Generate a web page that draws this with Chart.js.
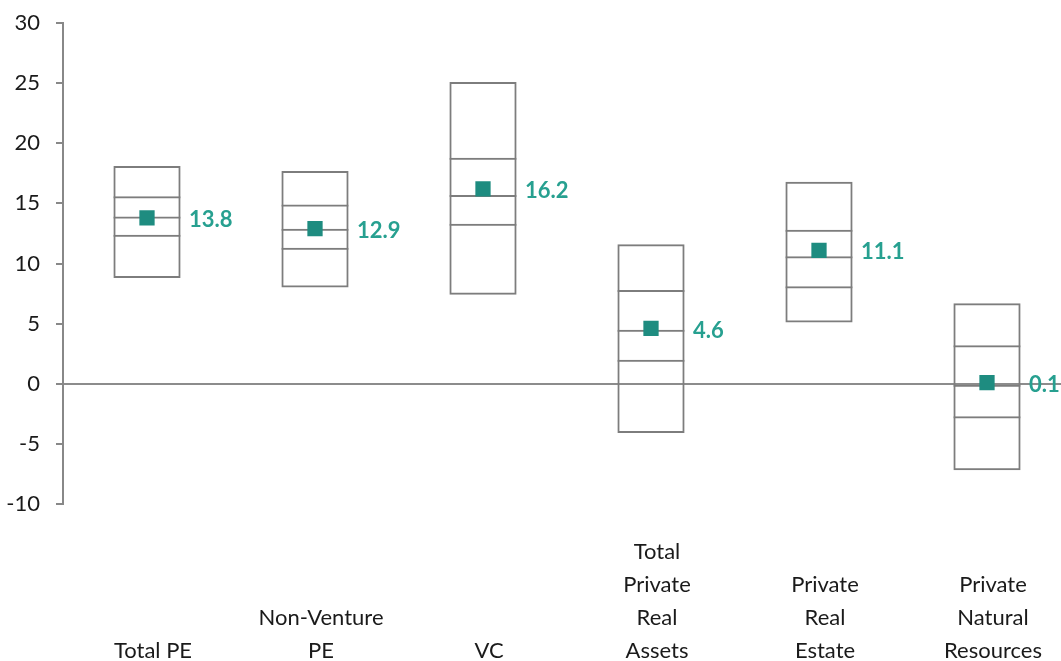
<!DOCTYPE html>
<html>
<head>
<meta charset="utf-8">
<script src="https://cdn.jsdelivr.net/npm/chart.js@4/dist/chart.umd.min.js"></script>
<style>
  html, body { margin: 0; padding: 0; background: #fff; overflow: hidden; }
  canvas { display: block; }
</style>
</head>
<body>
<canvas id="rangeChart" width="1075" height="661"></canvas>
<script>
const categories = [
    'Total PE',
    ['Non-Venture', 'PE'],
    'VC',
    ['Total', 'Private', 'Real', 'Assets'],
    ['Private', 'Real', 'Estate'],
    ['Private', 'Natural', 'Resources']
]

// range of returns per asset class (min, quartiles, max) and the pooled value
const lows = [8.8, 8.0, 7.4, -4.1, 5.1, -7.2]
const lowerQuartile = [12.4, 11.3, 13.3, 2.0, 8.1, -2.7]
const medians = [13.9, 12.9, 15.7, 4.5, 10.6, 0.0]
const upperQuartile = [15.6, 14.9, 18.8, 7.8, 12.8, 3.2]
const highs = [18.1, 17.7, 25.1, 11.6, 16.8, 6.7]
const pooled = [13.8, 12.9, 16.2, 4.6, 11.1, 0.1]

const yTicks = [30, 25, 20, 15, 10, 5, 0, -5, -10]

const boxGray = '#7d7d7d'
const teal = '#1e8c80'
const tealText = '#27a090'

function segment(from, to) {
    return from.map((v, i) => [v, to[i]])
}

// outer box gets the full border, inner segments only draw their top edge
function boxPart(data, full) {
    return {
        type: 'bar',
        data: data,
        backgroundColor: 'rgba(0,0,0,0)',
        borderColor: boxGray,
        borderWidth: full ? 2 : { top: 2, bottom: 0, left: 0, right: 0 },
        borderSkipped: false,
        grouped: false,
        categoryPercentage: 1,
        barPercentage: 0.4,
        order: 2
    }
}

const labelPlugin = {
    id: 'pooledLabels',
    afterDatasetsDraw(chart) {
        const meta = chart.getDatasetMeta(0)
        const ctx = chart.ctx
        ctx.save()
        ctx.font = 'bold 22px Lato'
        ctx.fillStyle = tealText
        ctx.textAlign = 'left'
        ctx.textBaseline = 'middle'
        meta.data.forEach((pt, i) => {
            ctx.fillText(pooled[i].toFixed(1), pt.x + 42, pt.y + 2)
        })
        ctx.restore()
    }
}

const data = {
    labels: categories,
    datasets: [
        {
            type: 'line',
            label: 'Pooled',
            data: pooled,
            showLine: false,
            pointStyle: 'rect',
            pointRadius: 10.8,
            pointBackgroundColor: teal,
            pointBorderColor: teal,
            pointBorderWidth: 0,
            order: 0
        },
        boxPart(segment(lows, highs), true),
        boxPart(segment(lows, lowerQuartile), false),
        boxPart(segment(lowerQuartile, medians), false),
        boxPart(segment(medians, upperQuartile), false)
    ]
}

const config = {
    type: 'bar',
    data: data,
    plugins: [labelPlugin],
    options: {
        responsive: false,
        animation: false,
        layout: { autoPadding: false, padding: { top: 23, right: 4, bottom: 0, left: 0 } },
        plugins: {
            legend: { display: false },
            tooltip: { enabled: false }
        },
        scales: {
            x: {
                offset: true,
                grid: { display: false },
                border: { display: false },
                ticks: {
                    color: '#1a1a1a',
                    font: { family: 'Lato', size: 22, lineHeight: 1.5 },
                    padding: 40,
                    labelOffset: 6,
                    crossAlign: 'far',
                    autoSkip: false,
                    maxRotation: 0
                },
                afterFit(scale) {
                    scale.height = 157
                    scale.paddingLeft = 0
                    scale.paddingRight = 0
                }
            },
            y: {
                min: -10,
                max: 30,
                afterBuildTicks(scale) {
                    scale.ticks = yTicks.map(v => ({ value: v }))
                },
                grid: {
                    color: c => (c.tick && c.tick.value === 0) ? '#8c8c8c' : 'rgba(0,0,0,0)',
                    lineWidth: 2,
                    tickColor: '#888',
                    tickLength: 7
                },
                border: { display: true, color: '#888', width: 2 },
                ticks: {
                    color: '#1a1a1a',
                    font: { family: 'Lato', size: 22 },
                    padding: 16
                },
                afterFit(scale) {
                    scale.width = 63
                    scale.paddingTop = 0
                    scale.paddingBottom = 0
                }
            }
        }
    }
}

new Chart(
    document.getElementById('rangeChart').getContext('2d'),
    config
)
</script>
</body>
</html>
